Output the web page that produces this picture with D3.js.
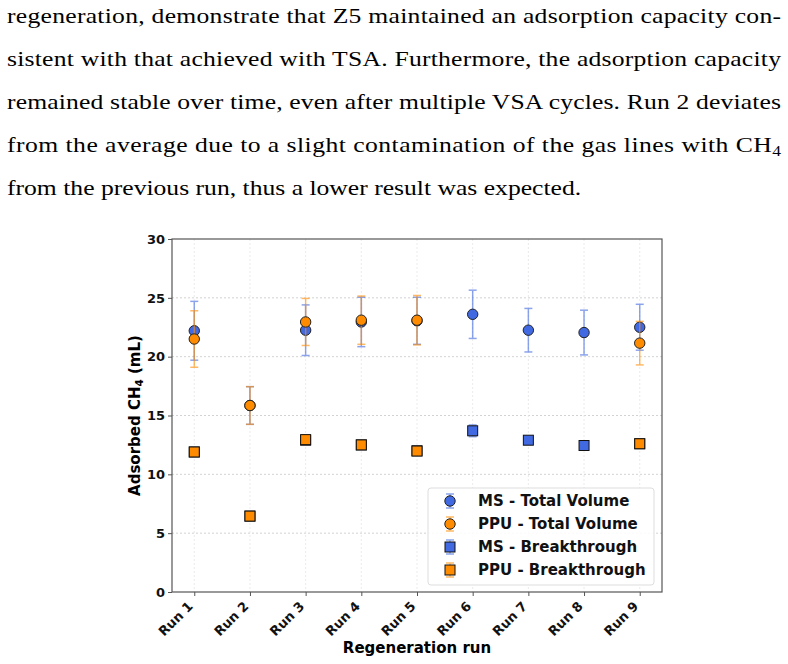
<!DOCTYPE html>
<html>
<head>
<meta charset="utf-8">
<title>Adsorbed CH4 per regeneration run</title>
<style>
  body { margin: 0; background: #fff; }
</style>
</head>
<body>
<script src="https://cdn.jsdelivr.net/npm/d3@7/dist/d3.min.js"></script>
<script>

// paragraph above the figure (one entry per printed line, "|" marks a subscript)
var textLines = [
    "regeneration, demonstrate that Z5 maintained an adsorption capacity con-",
    "sistent with that achieved with TSA. Furthermore, the adsorption capacity",
    "remained stable over time, even after multiple VSA cycles.  Run 2 deviates",
    "from the average due to a slight contamination of the gas lines with CH|4",
    "from the previous run, thus a lower result was expected."
];

// chart data
var runs = ["Run 1", "Run 2", "Run 3", "Run 4", "Run 5", "Run 6", "Run 7", "Run 8", "Run 9"];
var yTicks = [0, 5, 10, 15, 20, 25, 30];

var msTotal     = [22.2, 15.85, 22.25, 22.95, 23.05, 23.6, 22.25, 22.05, 22.5];
var msTotalErr  = [2.5, 1.6, 2.15, 2.1, 2.0, 2.05, 1.85, 1.9, 1.95];
var ppuTotal    = [21.5, 15.85, 22.95, 23.1, 23.1, null, null, null, 21.15];
var ppuTotalErr = [2.4, 1.6, 2.0, 2.05, 2.1, null, null, null, 1.85];
var msBreak     = [11.9, 6.45, 12.9, 12.5, 12.0, 13.7, 12.9, 12.45, 12.6];
var msBreakErr  = [0.3, 0.2, 0.35, 0.3, 0.3, 0.5, 0.3, 0.25, 0.3];
var ppuBreak    = [11.9, 6.45, 12.95, 12.5, 11.98, null, null, null, 12.6];
var ppuBreakErr = [0.25, 0.2, 0.4, 0.35, 0.25, null, null, null, 0.35];

var blue = "#4169E1", orange = "#FF8C00";

var series = [
    {name: "MS - Total Volume",   vals: msTotal,  errs: msTotalErr,  color: blue,   shape: "circle"},
    {name: "PPU - Total Volume",  vals: ppuTotal, errs: ppuTotalErr, color: orange, shape: "circle"},
    {name: "MS - Breakthrough",   vals: msBreak,  errs: msBreakErr,  color: blue,   shape: "square"},
    {name: "PPU - Breakthrough",  vals: ppuBreak, errs: ppuBreakErr, color: orange, shape: "square"}
];

var W = 788, H = 664;
var plot = {left: 172, right: 662, top: 239, bottom: 592};
var sans = "'DejaVu Sans', sans-serif";

var svg = d3.select("body").append("svg")
    .attr("width", W)
    .attr("height", H);

// ---- paragraph text ----
// Times is narrower than the Computer Modern of the source, so stretch it a bit
var stretch = 1.165;
var para = svg.append("g")
    .attr("transform", "translate(7,0) scale(" + stretch + ",1)")
    .attr("font-family", "'Liberation Serif', serif")
    .attr("font-size", 22)
    .attr("fill", "#000");

textLines.forEach(function(line, i) {
    var t = para.append("text")
        .attr("x", 0)
        .attr("y", 23 + i * 43);
    if (i < textLines.length - 1) {
        t.attr("textLength", 774 / stretch).attr("lengthAdjust", "spacing");
    }
    var parts = line.split("|");
    t.append("tspan").text(parts[0]);
    if (parts[1]) {
        t.append("tspan").attr("font-size", 15).attr("dy", 4).text(parts[1]);
    }
});

// ---- scales ----
var x = d3.scaleLinear().domain([-0.4, runs.length - 1 + 0.4]).range([plot.left, plot.right]);
var y = d3.scaleLinear().domain([0, 30]).range([plot.bottom, plot.top]);

// grid
var grid = svg.append("g");
grid.selectAll("line.hg")
    .data(yTicks.slice(1, -1))
    .enter().append("line")
    .attr("x1", plot.left).attr("x2", plot.right)
    .attr("y1", function(d) { return y(d); })
    .attr("y2", function(d) { return y(d); })
    .style("stroke", "#c8c8c8")
    .style("stroke-width", 0.8)
    .style("stroke-dasharray", "2 2");
grid.selectAll("line.vg")
    .data(runs)
    .enter().append("line")
    .attr("x1", function(d, i) { return x(i); })
    .attr("x2", function(d, i) { return x(i); })
    .attr("y1", plot.top).attr("y2", plot.bottom)
    .style("stroke", "#e6e6e6")
    .style("stroke-width", 0.8)
    .style("stroke-dasharray", "2 2");

// axes
var yAxis = svg.append("g")
    .attr("transform", "translate(" + plot.left + ",0)")
    .call(d3.axisLeft(y).tickValues(yTicks).tickSize(4).tickPadding(3));
var xAxis = svg.append("g")
    .attr("transform", "translate(0," + plot.bottom + ")")
    .call(d3.axisBottom(x).tickValues(d3.range(runs.length))
        .tickFormat(function(i) { return runs[i]; })
        .tickSize(4).tickPadding(3));

[xAxis, yAxis].forEach(function(a) {
    a.select(".domain").remove();
    a.selectAll(".tick line").style("stroke", "#555");
    a.selectAll(".tick text")
        .style("font-family", sans)
        .style("font-weight", "bold")
        .style("font-size", "13px")
        .style("fill", "#111");
});

// rotated run labels, right end at the tick
xAxis.selectAll(".tick text")
    .attr("text-anchor", "end")
    .attr("x", 0).attr("y", 0).attr("dy", 0)
    .attr("transform", "translate(-1,15) rotate(-45)");

// frame
svg.append("rect")
    .attr("x", plot.left).attr("y", plot.top)
    .attr("width", plot.right - plot.left)
    .attr("height", plot.bottom - plot.top)
    .style("fill", "none")
    .style("stroke", "#555")
    .style("stroke-width", 1.2);

// axis titles
var yLab = svg.append("text")
    .attr("transform", "translate(140," + ((plot.top + plot.bottom) / 2) + ") rotate(-90)")
    .attr("text-anchor", "middle")
    .style("font-family", sans)
    .style("font-weight", "bold")
    .style("font-size", "15px");
yLab.append("tspan").text("Adsorbed CH");
yLab.append("tspan").style("font-size", "10.5px").attr("dy", 3).text("4");
yLab.append("tspan").attr("dy", -3).text(" (mL)");

svg.append("text")
    .attr("x", (plot.left + plot.right) / 2)
    .attr("y", 653)
    .attr("text-anchor", "middle")
    .style("font-family", sans)
    .style("font-weight", "bold")
    .style("font-size", "15px")
    .text("Regeneration run");

// ---- error bars + markers ----
function drawMarker(g, shape, color, cx, cy) {
    if (shape === "circle") {
        g.append("circle")
            .attr("cx", cx).attr("cy", cy).attr("r", 5.2)
            .style("fill", color).style("stroke", "#222").style("stroke-width", 1);
    } else {
        g.append("rect")
            .attr("x", cx - 5).attr("y", cy - 5)
            .attr("width", 10).attr("height", 10)
            .style("fill", color).style("stroke", "#111").style("stroke-width", 1);
    }
}

function drawErr(g, color, cx, y1, y2) {
    var e = g.append("g").style("stroke", color).style("stroke-width", 1.5).style("opacity", 0.6);
    e.append("line").attr("x1", cx).attr("x2", cx).attr("y1", y1).attr("y2", y2);
    e.append("line").attr("x1", cx - 4).attr("x2", cx + 4).attr("y1", y1).attr("y2", y1);
    e.append("line").attr("x1", cx - 4).attr("x2", cx + 4).attr("y1", y2).attr("y2", y2);
}

var marks = svg.append("g");
series.forEach(function(s) {
    var g = marks.append("g");
    s.vals.forEach(function(v, i) {
        if (v === null) return;
        drawErr(g, s.color, x(i), y(v + s.errs[i]), y(v - s.errs[i]));
    });
    s.vals.forEach(function(v, i) {
        if (v === null) return;
        drawMarker(g, s.shape, s.color, x(i), y(v));
    });
});

// ---- legend ----
var leg = svg.append("g").attr("transform", "translate(428,488)");
leg.append("rect")
    .attr("width", 226).attr("height", 97)
    .attr("rx", 3)
    .style("fill", "#fff").style("fill-opacity", 0.85)
    .style("stroke", "#ddd");

series.forEach(function(s, i) {
    var cy = 13 + i * 23;
    drawErr(leg, s.color, 22, cy - 7, cy + 7);
    drawMarker(leg, s.shape, s.color, 22, cy);
    leg.append("text")
        .attr("x", 50).attr("y", cy)
        .attr("dy", "0.35em")
        .style("font-family", sans)
        .style("font-weight", "bold")
        .style("font-size", "15px")
        .style("fill", "#111")
        .text(s.name);
});

</script>
</body>
</html>
